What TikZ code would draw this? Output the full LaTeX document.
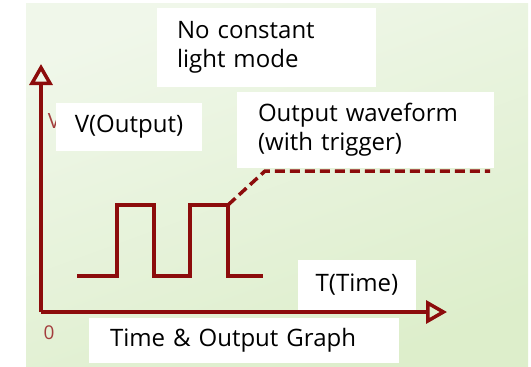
\documentclass[tikz,border=0pt]{standalone}
\usepackage{fontspec}
\setmainfont{Open Sans}
\usetikzlibrary{arrows.meta}
\definecolor{wavered}{RGB}{140,12,12}
\definecolor{bgtop}{RGB}{240,247,234}
\definecolor{bgbottom}{RGB}{221,238,203}
\tikzstyle{label box}=[fill=white,inner sep=0pt,font=\fontsize{24}{29}\selectfont]
\tikzstyle{axis}=[draw=wavered,line width=3.5pt]
\tikzstyle{wave}=[draw=wavered,line width=3.5pt,line join=miter]

\begin{document}
\begin{tikzpicture}[x=1pt,y=-1pt]
	\useasboundingbox (0,0) rectangle (531,367);
	\shade[top color=bgtop,bottom color=bgbottom,shading angle=20] (26,3) rectangle (528,367);
	\begin{scope}[>={Triangle[open,length=21pt,width=23pt,line width=3.5pt]}]
		% axes
		\coordinate (O) at (41,312);
		\coordinate (Ytop) at (41,64);
		\coordinate (Xend) at (447,312);
		\draw[axis,->] (O) -- (Ytop);
		\draw[axis,->] (O) -- (Xend);
		\node[text=wavered!80,font=\fontsize{21}{24}\selectfont] (Vmark) at (54,121) {V};
		\node[text=wavered!80,font=\fontsize{19}{22}\selectfont] (zero) at (49,333) {0};
		% pulses
		\draw[wave] (77,276) -- (117,276) -- (117,205) -- (154,205) -- (154,276)
			-- (190,276) -- (190,205) -- (228,205) -- (228,276) -- (263,276);
		\coordinate (trig) at (228,205);
		\coordinate (high) at (265,171);
		\coordinate (highend) at (490,171);
		\draw[wave,dash pattern=on 10pt off 5pt] (trig) -- (high) -- (highend);
	\end{scope}
	% labels
	\node[label box,minimum width=219pt,minimum height=79pt,text width=179pt,align=left] (mode) at (266.5,47.5) {No constant\\light mode};
	\node[label box,minimum width=146pt,minimum height=48pt] (vout) at (129,127) {V(Output)};
	\node[label box,minimum width=257pt,minimum height=76pt,text width=215pt,align=left] (form) at (365.5,130) {Output waveform\\(with trigger)};
	\node[label box,minimum width=118pt,minimum height=50pt] (time) at (357,285) {T(Time)};
	\node[label box,minimum width=310pt,minimum height=45pt,text width=268pt,align=left] (title) at (244,340.5) {Time \& Output Graph};
\end{tikzpicture}
\end{document}
